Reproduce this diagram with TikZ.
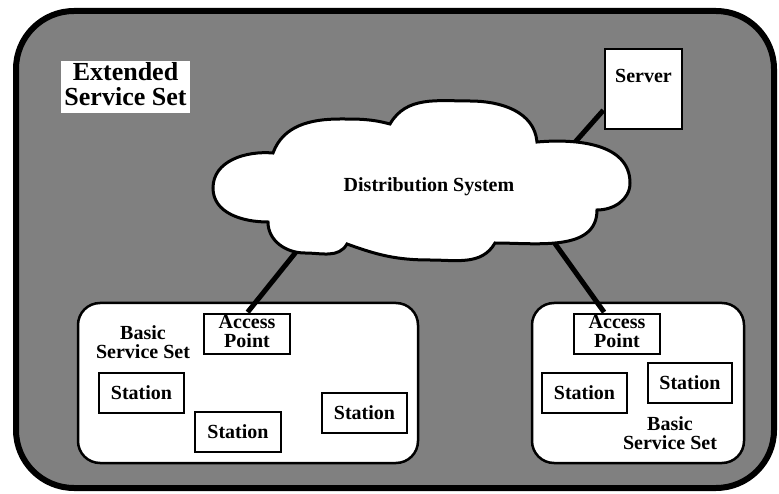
\documentclass[tikz,border=0pt]{standalone}
\usepackage{fontspec}
\setmainfont{Liberation Serif}
\usetikzlibrary{calc}
\definecolor{essgray}{RGB}{128,128,128}
\begin{document}
\begin{tikzpicture}[x=1pt,y=-1pt,
  txt/.style={font=\fontsize{20}{19.5}\selectfont\bfseries},
  box/.style={txt,draw,line width=2pt,fill=white,minimum width=86,minimum height=40,inner sep=0pt},
  bss/.style={draw,line width=2.5pt,fill=white,rounded corners=22pt,inner sep=0pt},
  lbl/.style={txt,inner sep=0pt,anchor=base},
  link/.style={line width=5pt,shorten >=1pt}]
\useasboundingbox (0,0) rectangle (779,494);
% outer extended service set
\draw[line width=6pt,fill=essgray,rounded corners=58pt] (16,11) rectangle (774,488);
\node[fill=white,minimum width=129,minimum height=52,inner sep=0pt,
      font=\fontsize{26}{24}\selectfont\bfseries] (ess) at (125.5,87.5)
  {\begin{tabular}[t]{@{}c@{}}Extended\\Service Set\end{tabular}};
% basic service sets
\node[bss,minimum width=340,minimum height=160] (bssL) at (248,383) {};
\node[bss,minimum width=212,minimum height=160] (bssR) at (638,383) {};
% access points and stations
\node[box] (apL) at (247,334) {\begin{tabular}[t]{@{}c@{}}Access\\Point\end{tabular}};
\node[box] (apR) at (617,334) {\begin{tabular}[t]{@{}c@{}}Access\\Point\end{tabular}};
\node[box,minimum width=85] (s1) at (141.5,393) {Station};
\node[box] (s2) at (238,432) {Station};
\node[box,minimum width=85] (s3) at (364.5,413) {Station};
\node[box,minimum width=85] (s4) at (584.5,393) {Station};
\node[box,minimum width=84] (s5) at (690,383) {Station};
% server
\node[box,minimum width=77,minimum height=80,text height=34,text depth=46,inner ysep=0pt] (server) at (643.5,89) {Server};
% labels
\node[lbl] (lblL) at (143,339) {\begin{tabular}[t]{@{}c@{}}Basic\\Service Set\end{tabular}};
\node[lbl] (lblR) at (670,430) {\begin{tabular}[t]{@{}c@{}}Basic\\Service Set\end{tabular}};
% connectors
\coordinate (clL) at (300,247);
\coordinate (clR) at (551,238);
\coordinate (clS) at (569,149);
\draw[link] (clL) -- (apL.north);
\draw[link] (clR) -- ($(apR.north west)!0.36!(apR.north east)$);
\draw[link] (clS) -- ($(server.south west)!0.25!(server.north west)$);
% cloud
\draw[line width=3pt,fill=white]
  (268,222) to[out=180,in=270] (213,188)
  to[out=90,in=175] (273,153)
  to[out=70,in=180] (340,119)
  to[out=0,in=165] (390,124)
  to[out=60,in=180] (470,101)
  to[out=0,in=95] (537,142)
  to[out=5,in=90] (630,183)
  to[out=270,in=0] (597,210)
  to[out=270,in=0] (495,243)
  to[out=240,in=0] (430,260)
  to[out=180,in=340] (347,244)
  to[out=240,in=0] (305,253)
  to[out=180,in=270] cycle;
\node[lbl] (ds) at (429,192) {Distribution System};
\end{tikzpicture}
\end{document}
